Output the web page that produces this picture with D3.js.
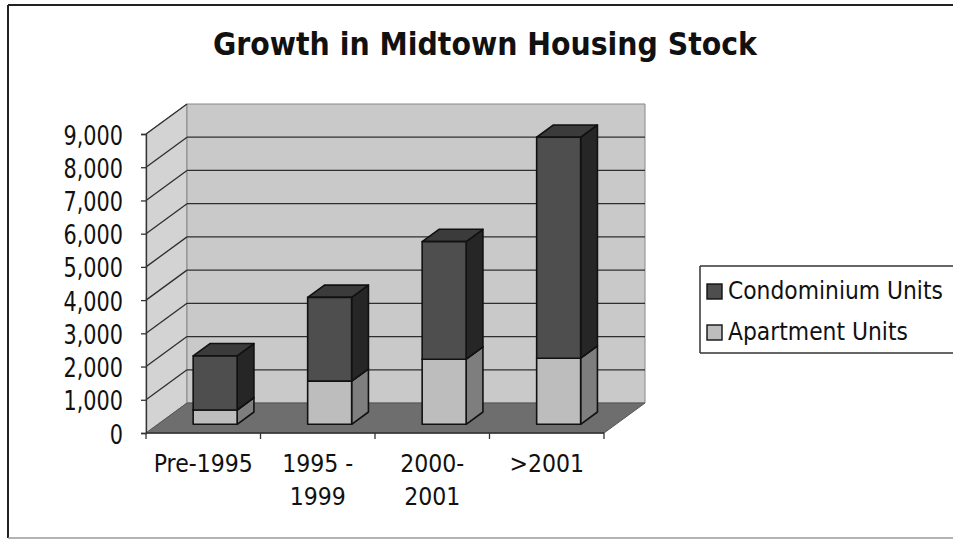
<!DOCTYPE html>
<html>
<head>
<meta charset="utf-8">
<script src="https://cdn.jsdelivr.net/npm/d3@7"></script>
<style>
  html, body { margin: 0; padding: 0; background: #fff; }
  svg { display: block; }
  text { font-family: "DejaVu Sans", Verdana, sans-serif; fill: #111; }
</style>
</head>
<body>
<svg id="chart" width="953" height="541"></svg>
<script>
// Housing stock by period (units)
const categories = ["Pre-1995", "1995 - 1999", "2000-2001", ">2001"];
const categoryLines = [["Pre-1995"], ["1995 -", "1999"], ["2000-", "2001"], [">2001"]];
const apartmentUnits = [430, 1300, 1960, 1990];
const condominiumUnits = [1630, 2520, 3540, 6650];
const seriesNames = ["Condominium Units", "Apartment Units"];
const yTicks = [0, 1000, 2000, 3000, 4000, 5000, 6000, 7000, 8000, 9000];

const svg = d3.select("#chart");

// plot geometry (front plane) and 3D depth offset of the back wall
const plot = { left: 146, right: 604, bottom: 433, top: 134 };
const depth = { dx: 41, dy: -30 };
const barFront = 0.29, barDepth = 0.41;   // fractions of full depth

const x = d3.scaleBand().domain(categories)
  .range([plot.left, plot.right]).paddingInner(0.616).paddingOuter(0.308);
const y = d3.scaleLinear().domain([0, 9000]).range([plot.bottom, plot.top]);

const col = {
  backWall: "#c9c9c9", sideWall: "#d3d3d3", floor: "#6e6e6e",
  grid: "#2e2e2e",
  condoFront: "#4e4e4e", condoSide: "#262626", condoTop: "#3b3b3b",
  aptFront: "#bdbdbd", aptSide: "#7e7e7e", aptTop: "#a9a9a9"
};

// outer frame: dark top and left edges, lighter bottom edge
svg.append("line").attr("x1", 8).attr("x2", 953).attr("y1", 5).attr("y2", 5)
  .attr("stroke", "#222").attr("stroke-width", 2);
svg.append("line").attr("x1", 8).attr("x2", 8).attr("y1", 5).attr("y2", 538)
  .attr("stroke", "#222").attr("stroke-width", 2);
svg.append("line").attr("x1", 8).attr("x2", 953).attr("y1", 538).attr("y2", 538)
  .attr("stroke", "#9a9a9a").attr("stroke-width", 1.5);

// helper to condense text horizontally to a given ratio or width
function squeeze(sel, opt) {
  sel.each(function () {
    const w = this.getComputedTextLength();
    const target = opt.width != null ? opt.width : w * opt.ratio;
    d3.select(this).attr("textLength", target).attr("lengthAdjust", "spacingAndGlyphs");
  });
}

// title
svg.append("text").attr("x", 485).attr("y", 55).attr("text-anchor", "middle")
  .attr("font-size", 31.5).attr("font-weight", "bold")
  .text("Growth in Midtown Housing Stock")
  .call(squeeze, { width: 544 });

const g = svg.append("g");
const bx = plot.left + depth.dx, rx = plot.right + depth.dx;
const line = d3.line();

// side (left) wall
g.append("path").attr("d", line([[plot.left, y(9000)], [bx, y(9000) + depth.dy], [bx, y(0) + depth.dy], [plot.left, y(0)]]) + "Z")
  .attr("fill", col.sideWall).attr("stroke", "#888").attr("stroke-width", 1);
// back wall
g.append("path").attr("d", line([[bx, y(9000) + depth.dy], [rx, y(9000) + depth.dy], [rx, y(0) + depth.dy], [bx, y(0) + depth.dy]]) + "Z")
  .attr("fill", col.backWall).attr("stroke", "#888").attr("stroke-width", 1);

// gridlines on back and side walls
const gridVals = yTicks.filter(v => v > 0);
g.selectAll("line.gback").data(gridVals.filter(v => v < 9000)).join("line")
  .attr("x1", bx).attr("x2", rx)
  .attr("y1", d => y(d) + depth.dy).attr("y2", d => y(d) + depth.dy)
  .attr("stroke", col.grid).attr("stroke-width", 1.3);
g.selectAll("line.gside").data(gridVals).join("line")
  .attr("x1", plot.left).attr("x2", bx)
  .attr("y1", d => y(d)).attr("y2", d => y(d) + depth.dy)
  .attr("stroke", col.grid).attr("stroke-width", 1.3);

// floor
g.append("path").attr("d", line([[plot.left, y(0)], [plot.right, y(0)], [rx, y(0) + depth.dy], [bx, y(0) + depth.dy]]) + "Z")
  .attr("fill", col.floor).attr("stroke", "#555").attr("stroke-width", 1);

// y axis
const yAxis = d3.axisLeft(y).tickValues(yTicks).tickSize(5).tickPadding(18)
  .tickFormat(d3.format(","));
const ya = svg.append("g").attr("transform", `translate(${plot.left},0)`).call(yAxis);
ya.select(".domain").attr("stroke", "#333").attr("stroke-width", 1.3);
ya.selectAll(".tick line").attr("stroke", "#333").attr("stroke-width", 1.3);
ya.selectAll(".tick text").attr("font-size", 26).attr("font-family", null)
  .attr("dy", null).attr("y", 10).attr("fill", "#111")
  .call(squeeze, { ratio: 0.8 });

// x axis line and ticks at category boundaries
const xa = svg.append("g");
xa.append("line").attr("x1", plot.left).attr("x2", plot.right)
  .attr("y1", plot.bottom).attr("y2", plot.bottom).attr("stroke", "#333").attr("stroke-width", 1.3);
const bounds = d3.range(categories.length + 1).map(i => plot.left + i * x.step());
xa.selectAll("line.xt").data(bounds).join("line")
  .attr("x1", d => d).attr("x2", d => d).attr("y1", plot.bottom).attr("y2", plot.bottom + 6)
  .attr("stroke", "#333").attr("stroke-width", 1.3);
// x labels
categories.forEach((c, i) => {
  categoryLines[i].forEach((t, j) => {
    svg.append("text").attr("x", x(c) + x.bandwidth() / 2).attr("y", 472 + j * 33)
      .attr("text-anchor", "middle").attr("font-size", 24.5).text(t)
      .call(squeeze, { ratio: 0.9 });
  });
});

// bars
const fx = barFront * depth.dx, fy = barFront * depth.dy;
const ddx = barDepth * depth.dx, ddy = barDepth * depth.dy;
const stacks = categories.map((c, i) => [
  { c, lo: 0, hi: apartmentUnits[i], front: col.aptFront, side: col.aptSide, top: col.aptTop },
  { c, lo: apartmentUnits[i], hi: apartmentUnits[i] + condominiumUnits[i], front: col.condoFront, side: col.condoSide, top: col.condoTop }
]);
const bars = svg.append("g");
stacks.forEach(stack => {
  stack.forEach(s => {
    const x0 = x(s.c) + fx, x1 = x0 + x.bandwidth();
    const yb = y(s.lo) + fy, yt = y(s.hi) + fy;
    const st = { stroke: "#111", "stroke-width": 1.6, "stroke-linejoin": "round" };
    const side = bars.append("path").attr("d", line([[x1, yb], [x1 + ddx, yb + ddy], [x1 + ddx, yt + ddy], [x1, yt]]) + "Z").attr("fill", s.side);
    const top = bars.append("path").attr("d", line([[x0, yt], [x0 + ddx, yt + ddy], [x1 + ddx, yt + ddy], [x1, yt]]) + "Z").attr("fill", s.top);
    const front = bars.append("rect").attr("x", x0).attr("y", yt).attr("width", x1 - x0).attr("height", yb - yt).attr("fill", s.front);
    [side, top, front].forEach(el => Object.entries(st).forEach(([k, v]) => el.attr(k, v)));
  });
});

// legend (text condensed with a horizontal scale so its box stays inside the page)
const lg = svg.append("g");
lg.append("line").attr("x1", 700).attr("x2", 953).attr("y1", 266).attr("y2", 266)
  .attr("stroke", "#333").attr("stroke-width", 1.5);
lg.append("line").attr("x1", 700).attr("x2", 953).attr("y1", 353).attr("y2", 353)
  .attr("stroke", "#333").attr("stroke-width", 1.5);
lg.append("line").attr("x1", 700).attr("x2", 700).attr("y1", 266).attr("y2", 353)
  .attr("stroke", "#333").attr("stroke-width", 1.5);
const legendFill = [col.condoFront, col.aptFront];
const legendWidth = [215, 180];
seriesNames.forEach((n, i) => {
  const yy = 299 + i * 41;
  lg.append("rect").attr("x", 707).attr("y", yy - 15).attr("width", 15).attr("height", 15)
    .attr("fill", legendFill[i]).attr("stroke", "#111").attr("stroke-width", 1.4);
  const t = lg.append("text").attr("x", 0).attr("y", 0).attr("font-size", 25).text(n);
  const sx = legendWidth[i] / t.node().getComputedTextLength();
  t.attr("transform", `translate(728,${yy}) scale(${sx},1)`);
});
</script>
</body>
</html>
